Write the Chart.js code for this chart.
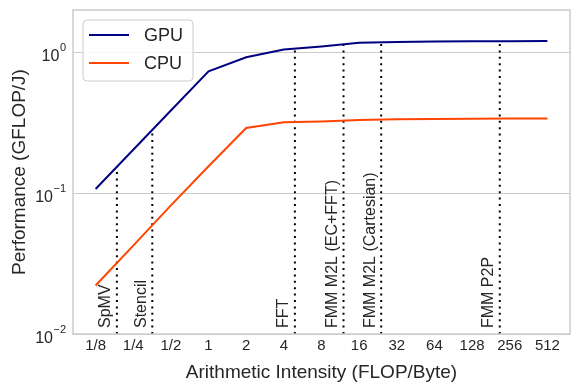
<!DOCTYPE html>
<html>
<head>
<meta charset="utf-8">
<script src="https://cdn.jsdelivr.net/npm/chart.js@4"></script>
<style>
  html, body { margin: 0; padding: 0; background: #fff; }
  #box { width: 581px; height: 389px; }
</style>
</head>
<body>
<div id="box"><canvas id="grafico"></canvas></div>
<script>
// arithmetic intensity (FLOP/Byte), one point per power of 2
var intensity = [0.125, 0.25, 0.5, 1, 2, 4, 8, 16, 32, 64, 128, 256, 512];
var intensityLabels = ['1/8', '1/4', '1/2', '1', '2', '4', '8', '16', '32', '64', '128', '256', '512'];

// energy efficiency (GFLOP/J)
var gpuPerf = [0.107, 0.203, 0.386, 0.733, 0.922, 1.045, 1.10, 1.166, 1.185, 1.19, 1.195, 1.197, 1.2];
var cpuPerf = [0.0221, 0.0424, 0.0818, 0.155, 0.290, 0.318, 0.323, 0.331, 0.334, 0.336, 0.337, 0.338, 0.338];

// kernels: intensity and the height where the dotted marker stops
var kernelNames = ['SpMV', 'Stencil', 'FFT', 'FMM M2L (EC+FFT)', 'FMM M2L (Cartesian)', 'FMM P2P'];
var kernelIntensity = [0.185, 0.355, 4.9, 12, 24, 213];
var kernelTop = [0.155, 0.281, 1.05, 1.13, 1.176, 1.197];

var yTickValues = [0.01, 0.1, 1];
var yTickExp = ['\u22122', '\u22121', '0'];

var FONT = "'Liberation Sans', Arial, sans-serif";
var TEXT = '#262626';
var EDGE = '#cccccc';

function punti(xs, ys) {
    var out = [];
    for (var i = 0; i < xs.length; i++) {
        out.push({x: xs[i], y: ys[i]});
    }
    return out;
}

var datasets = [
    {label: 'GPU', data: punti(intensity, gpuPerf), borderColor: '#000080', borderWidth: 2, pointRadius: 0, tension: 0},
    {label: 'CPU', data: punti(intensity, cpuPerf), borderColor: '#ff4500', borderWidth: 2, pointRadius: 0, tension: 0}
];
for (var k = 0; k < kernelNames.length; k++) {
    datasets.push({
        label: kernelNames[k],
        data: [{x: kernelIntensity[k], y: yTickValues[0]}, {x: kernelIntensity[k], y: kernelTop[k]}],
        borderColor: '#000000', borderWidth: 2, borderDash: [2, 4.4], pointRadius: 0
    });
}

// frame, y tick labels with exponents, kernel names and the legend box
var decorazioni = {
    id: 'decorazioni',
    afterDatasetsDraw: function (chart) {
        var ctx = chart.ctx;
        var a = chart.chartArea;
        var xs = chart.scales.x, ys = chart.scales.y;

        ctx.save();
        ctx.strokeStyle = EDGE;
        ctx.lineWidth = 1.5;
        ctx.strokeRect(a.left, a.top, a.right - a.left, a.bottom - a.top);

        // kernel labels, rotated, sitting just left of their lines
        ctx.fillStyle = TEXT;
        ctx.font = '16px ' + FONT;
        for (var i = 0; i < kernelNames.length; i++) {
            var px = xs.getPixelForValue(kernelIntensity[i]);
            ctx.save();
            ctx.translate(px - 3, a.bottom - 6);
            ctx.rotate(-Math.PI / 2);
            ctx.textAlign = 'left';
            ctx.textBaseline = 'bottom';
            ctx.fillText(kernelNames[i], 0, 0);
            ctx.restore();
        }

        // y tick labels 10^n
        for (var j = 0; j < yTickValues.length; j++) {
            var py = ys.getPixelForValue(yTickValues[j]);
            ctx.font = '11px ' + FONT;
            ctx.textAlign = 'right';
            ctx.textBaseline = 'alphabetic';
            var ew = ctx.measureText(yTickExp[j]).width;
            var right = a.left - 7;
            ctx.fillText(yTickExp[j], right, py - 1);
            ctx.font = '16px ' + FONT;
            ctx.fillText('10', right - ew - 0.5, py + 9);
        }

        // legend
        var lx = 83, ly = 20, lw = 110, lh = 61, r = 4;
        ctx.beginPath();
        ctx.moveTo(lx + r, ly);
        ctx.arcTo(lx + lw, ly, lx + lw, ly + lh, r);
        ctx.arcTo(lx + lw, ly + lh, lx, ly + lh, r);
        ctx.arcTo(lx, ly + lh, lx, ly, r);
        ctx.arcTo(lx, ly, lx + lw, ly, r);
        ctx.closePath();
        ctx.fillStyle = 'rgba(255,255,255,0.85)';
        ctx.fill();
        ctx.strokeStyle = EDGE;
        ctx.lineWidth = 1;
        ctx.stroke();
        ctx.font = '18px ' + FONT;
        ctx.textAlign = 'left';
        ctx.textBaseline = 'middle';
        for (var d = 0; d < 2; d++) {
            var ds = chart.data.datasets[d];
            var yy = 35 + d * 28;
            ctx.strokeStyle = ds.borderColor;
            ctx.lineWidth = 2;
            ctx.beginPath();
            ctx.moveTo(89, yy);
            ctx.lineTo(129, yy);
            ctx.stroke();
            ctx.fillStyle = TEXT;
            ctx.fillText(ds.label, 144, yy + 1);
        }
        ctx.restore();
    }
};

var ctx = document.getElementById('grafico');
var chart = new Chart(ctx, {
    type: 'line',
    data: {datasets: datasets},
    options: {
        responsive: true,
        maintainAspectRatio: false,
        animation: false,
        layout: {padding: {top: 10, right: 11, left: 0, bottom: 0}},
        plugins: {legend: {display: false}, tooltip: {enabled: false}},
        scales: {
            x: {
                type: 'logarithmic',
                min: Math.pow(2, -3.6),
                max: Math.pow(2, 9.6),
                afterBuildTicks: function (axis) {
                    axis.ticks = intensity.map(function (v) { return {value: v}; });
                },
                afterFit: function (axis) { axis.height = 55; },
                grid: {display: false, drawTicks: false},
                border: {display: false},
                ticks: {
                    autoSkip: false, maxRotation: 0, padding: 3,
                    color: TEXT, font: {size: 15, family: FONT},
                    callback: function (val, idx) { return intensityLabels[idx]; }
                },
                title: {
                    display: true, text: 'Arithmetic Intensity (FLOP/Byte)',
                    color: TEXT, font: {size: 19, family: FONT}, padding: {top: 0, bottom: 5}
                }
            },
            y: {
                type: 'logarithmic',
                min: 0.01,
                max: Math.pow(10, 0.3),
                afterBuildTicks: function (axis) {
                    axis.ticks = yTickValues.map(function (v) { return {value: v}; });
                },
                afterFit: function (axis) { axis.width = 73; },
                grid: {color: EDGE, lineWidth: 1, drawTicks: false},
                border: {display: false},
                ticks: {display: false},
                title: {
                    display: true, text: 'Performance (GFLOP/J)',
                    color: TEXT, font: {size: 19, family: FONT}, padding: {top: 8, bottom: 0}
                }
            }
        }
    },
    plugins: [decorazioni]
});
</script>
</body>
</html>
